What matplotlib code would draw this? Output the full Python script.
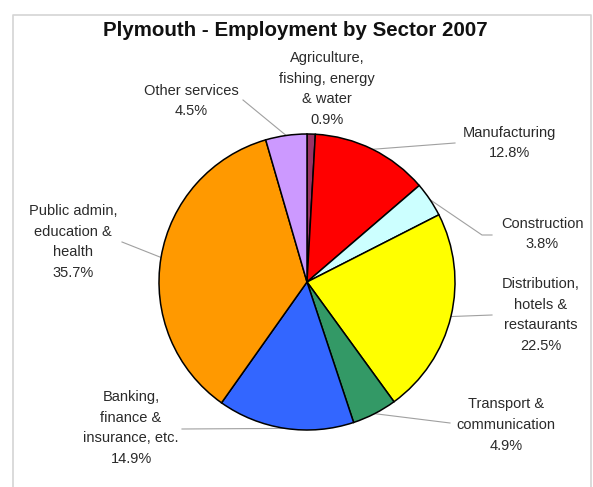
import matplotlib.pyplot as plt
import numpy as np

plt.rcParams['font.family'] = ['Liberation Sans', 'DejaVu Sans']

sectors = ["Agriculture,\nfishing, energy\n& water",
           "Manufacturing",
           "Construction",
           "Distribution,\nhotels &\nrestaurants",
           "Transport &\ncommunication",
           "Banking,\nfinance &\ninsurance, etc.",
           "Public admin,\neducation &\nhealth",
           "Other services"]
shares = [0.9, 12.8, 3.8, 22.5, 4.9, 14.9, 35.7, 4.5]
colors = ["#993366", "#ff0000", "#ccffff", "#ffff00",
          "#339966", "#3366ff", "#ff9900", "#cc99ff"]

W, H = 593, 487
fig = plt.figure(figsize=(W / 100, H / 100), dpi=100)
ax = fig.add_axes([0, 0, 1, 1])

def py(y):
    # pixel rows counted from the top
    return H - y

cx, cy, r = 307, py(282), 148
wedges, _ = ax.pie(shares, colors=colors, startangle=90, counterclock=False,
                   center=(cx, cy), radius=r,
                   wedgeprops=dict(edgecolor="black", linewidth=1.1))

ax.set_xlim(0, W)
ax.set_ylim(0, H)
ax.set_aspect('auto')
ax.axis('off')

# label centre and leader-line path (label side)
label_pos = [(327, 89), (509, 143), (542, 234), (541, 315),
             (506, 425), (131, 428), (73, 242), (191, 101)]
leaders = [None,
           [(455, 143)],
           [(482, 235), (492, 235)],
           [(492, 315)],
           [(450, 423)],
           [(182, 429)],
           [(122, 242)],
           [(243, 100)]]

for w, name, val, (lx, ly), path in zip(wedges, sectors, shares, label_pos, leaders):
    ax.text(lx, py(ly), f"{name}\n{val}%", ha="center", va="center",
            fontsize=10.5, color="#2a2a2a", linespacing=1.63)
    if path is None:
        continue
    mid = np.deg2rad((w.theta1 + w.theta2) / 2)
    xs = [cx + r * np.cos(mid)] + [p[0] for p in path]
    ys = [cy + r * np.sin(mid)] + [py(p[1]) for p in path]
    ax.plot(xs, ys, color="#a0a0a0", linewidth=0.8, zorder=0)

ax.text(295, py(30), "Plymouth - Employment by Sector 2007", ha="center",
        va="center", fontsize=14.8, fontweight="bold", color="#111111")

# chart area border
ax.plot([13, 13, 591, 591], [0, py(15), py(15), 0], color="#d4d4d4",
        linewidth=1.2, clip_on=False)

fig.savefig("out.png", dpi=100)
